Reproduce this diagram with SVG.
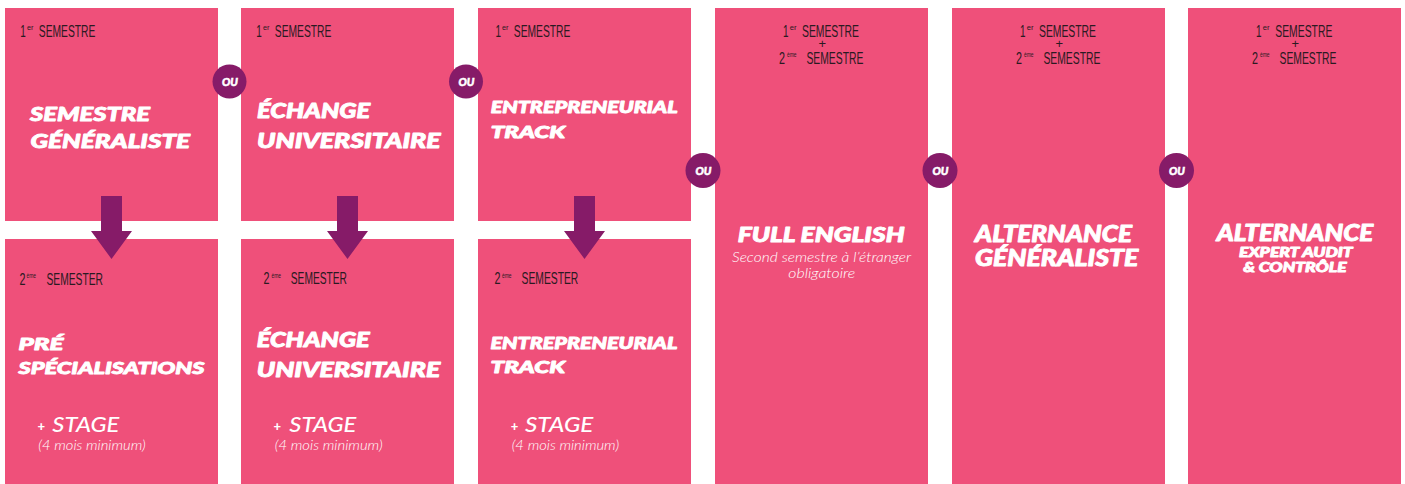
<svg xmlns="http://www.w3.org/2000/svg" width="1405" height="484" viewBox="0 0 1405 484">
<style>
.box{fill:#EF507A}
.hd{font-family:"Liberation Sans",Arial,sans-serif;font-size:16px;fill:#2B1A22}
.sup{font-family:"Liberation Sans",Arial,sans-serif;font-size:8px;fill:#2B1A22}
.plus{font-family:"Liberation Sans",Arial,sans-serif;font-size:13px;fill:#2B1A22;text-anchor:middle}
.t{font-family:Lato,Roboto,"Open Sans",sans-serif;font-weight:900;font-style:italic;fill:#FFFFFF;stroke:#FFFFFF;stroke-width:0.9px;stroke-linejoin:round}
.stg{font-family:Lato,"Open Sans",sans-serif;font-weight:500;font-style:italic;font-size:21px;fill:#FFFFFF}
.sp{font-family:Lato,"Open Sans",sans-serif;font-weight:900;font-size:13px;fill:#FFFFFF}
.note{font-family:Lato,"Open Sans",sans-serif;font-weight:300;font-style:italic;font-size:13px;fill:#FFFFFF}
.sub{font-family:Lato,"Open Sans",sans-serif;font-weight:300;font-style:italic;font-size:14.5px;fill:#FFFFFF}
.ou{fill:#861B68}
.out{font-family:Lato,Roboto,sans-serif;font-weight:900;font-style:italic;font-size:11px;fill:#FFFFFF;stroke:#FFFFFF;stroke-width:0.5px;text-anchor:middle}
.arr{fill:#861B68}
</style>

<g id="col1-s1">
<rect class="box" x="5" y="8" width="213" height="213"/>
<text class="hd" x="20.3" y="36.7" textLength="5.5" lengthAdjust="spacingAndGlyphs">1</text>
<text class="sup" x="27" y="30" textLength="6.5" lengthAdjust="spacingAndGlyphs">er</text>
<text class="hd" x="38.8" y="36.7" textLength="56.5" lengthAdjust="spacingAndGlyphs">SEMESTRE</text>
<text class="t" x="30" y="120.7" font-size="19.5" textLength="120" lengthAdjust="spacingAndGlyphs">SEMESTRE</text>
<text class="t" x="30.5" y="148.3" font-size="19.5" textLength="159.5" lengthAdjust="spacingAndGlyphs">GÉNÉRALISTE</text>
</g>

<g id="col2-s1">
<rect class="box" x="241" y="8" width="213" height="213"/>
<text class="hd" x="256.3" y="36.7" textLength="5.5" lengthAdjust="spacingAndGlyphs">1</text>
<text class="sup" x="263" y="30" textLength="6.5" lengthAdjust="spacingAndGlyphs">er</text>
<text class="hd" x="274.8" y="36.7" textLength="56.5" lengthAdjust="spacingAndGlyphs">SEMESTRE</text>
<text class="t" x="257" y="118" font-size="20" textLength="113" lengthAdjust="spacingAndGlyphs">ÉCHANGE</text>
<text class="t" x="257" y="148" font-size="20" textLength="183.5" lengthAdjust="spacingAndGlyphs">UNIVERSITAIRE</text>
</g>

<g id="col3-s1">
<rect class="box" x="478" y="8" width="213" height="213"/>
<text class="hd" x="495.6" y="36.7" textLength="5.5" lengthAdjust="spacingAndGlyphs">1</text>
<text class="sup" x="502" y="30" textLength="6.5" lengthAdjust="spacingAndGlyphs">er</text>
<text class="hd" x="513.8" y="36.7" textLength="56.5" lengthAdjust="spacingAndGlyphs">SEMESTRE</text>
<text class="t" x="490.7" y="113.3" font-size="16.3" textLength="187" lengthAdjust="spacingAndGlyphs">ENTREPRENEURIAL</text>
<text class="t" x="490.7" y="138.3" font-size="16.3" textLength="74.5" lengthAdjust="spacingAndGlyphs">TRACK</text>
</g>

<g id="col1-s2">
<rect class="box" x="5" y="239" width="213" height="245"/>
<text class="hd" x="19.6" y="285" textLength="6" lengthAdjust="spacingAndGlyphs">2</text>
<text class="sup" x="26.5" y="278.3" textLength="9.6" lengthAdjust="spacingAndGlyphs">ème</text>
<text class="hd" x="46.5" y="285" textLength="56.5" lengthAdjust="spacingAndGlyphs">SEMESTER</text>
<text class="t" x="18.5" y="350" font-size="17.2" textLength="45" lengthAdjust="spacingAndGlyphs">PRÉ</text>
<text class="t" x="18.5" y="374" font-size="17.2" textLength="186" lengthAdjust="spacingAndGlyphs">SPÉCIALISATIONS</text>
<text class="sp" x="37.5" y="431">+</text>
<text class="stg" x="52.3" y="431.7" textLength="67" lengthAdjust="spacingAndGlyphs">STAGE</text>
<text class="note" x="38.3" y="450" textLength="107.4" lengthAdjust="spacingAndGlyphs">(4 mois minimum)</text>
</g>

<g id="col2-s2">
<rect class="box" x="241" y="239" width="213" height="245"/>
<text class="hd" x="263.6" y="284.3" textLength="6" lengthAdjust="spacingAndGlyphs">2</text>
<text class="sup" x="271.5" y="277.6" textLength="9.6" lengthAdjust="spacingAndGlyphs">ème</text>
<text class="hd" x="290.8" y="284.3" textLength="56.2" lengthAdjust="spacingAndGlyphs">SEMESTER</text>
<text class="t" x="256.7" y="346.7" font-size="20" textLength="113" lengthAdjust="spacingAndGlyphs">ÉCHANGE</text>
<text class="t" x="256.7" y="376.7" font-size="20" textLength="183.5" lengthAdjust="spacingAndGlyphs">UNIVERSITAIRE</text>
<text class="sp" x="273.5" y="431">+</text>
<text class="stg" x="289.3" y="431.7" textLength="67" lengthAdjust="spacingAndGlyphs">STAGE</text>
<text class="note" x="274.7" y="450" textLength="108" lengthAdjust="spacingAndGlyphs">(4 mois minimum)</text>
</g>

<g id="col3-s2">
<rect class="box" x="478" y="239" width="213" height="245"/>
<text class="hd" x="494.6" y="284.3" textLength="6" lengthAdjust="spacingAndGlyphs">2</text>
<text class="sup" x="502" y="277.6" textLength="9.6" lengthAdjust="spacingAndGlyphs">ème</text>
<text class="hd" x="521.5" y="284.3" textLength="56.8" lengthAdjust="spacingAndGlyphs">SEMESTER</text>
<text class="t" x="490.5" y="349.3" font-size="16.3" textLength="187" lengthAdjust="spacingAndGlyphs">ENTREPRENEURIAL</text>
<text class="t" x="490.5" y="372.7" font-size="16.3" textLength="74.5" lengthAdjust="spacingAndGlyphs">TRACK</text>
<text class="sp" x="510.8" y="431">+</text>
<text class="stg" x="525" y="431.7" textLength="68.3" lengthAdjust="spacingAndGlyphs">STAGE</text>
<text class="note" x="511.7" y="450" textLength="107.4" lengthAdjust="spacingAndGlyphs">(4 mois minimum)</text>
</g>

<g id="col4">
<rect class="box" x="715" y="8" width="213" height="476"/>
<text class="hd" x="782.9" y="36.7" textLength="5.5" lengthAdjust="spacingAndGlyphs">1</text>
<text class="sup" x="789.7" y="30" textLength="6.8" lengthAdjust="spacingAndGlyphs">er</text>
<text class="hd" x="802" y="36.7" textLength="57" lengthAdjust="spacingAndGlyphs">SEMESTRE</text>
<text class="plus" x="822.3" y="48.4">+</text>
<text class="hd" x="778.9" y="64" textLength="6" lengthAdjust="spacingAndGlyphs">2</text>
<text class="sup" x="787" y="57.3" textLength="9.6" lengthAdjust="spacingAndGlyphs">ème</text>
<text class="hd" x="806.4" y="64" textLength="57" lengthAdjust="spacingAndGlyphs">SEMESTRE</text>
<text class="t" x="737.7" y="241.7" font-size="21" textLength="167" lengthAdjust="spacingAndGlyphs">FULL ENGLISH</text>
<text class="sub" x="732" y="261.5" textLength="179" lengthAdjust="spacingAndGlyphs">Second semestre à l’étranger</text>
<text class="sub" x="788.3" y="277.8" textLength="67" lengthAdjust="spacingAndGlyphs">obligatoire</text>
</g>

<g id="col5">
<rect class="box" x="952" y="8" width="213" height="476"/>
<text class="hd" x="1019.9" y="36.7" textLength="5.5" lengthAdjust="spacingAndGlyphs">1</text>
<text class="sup" x="1026.7" y="30" textLength="6.8" lengthAdjust="spacingAndGlyphs">er</text>
<text class="hd" x="1039" y="36.7" textLength="57" lengthAdjust="spacingAndGlyphs">SEMESTRE</text>
<text class="plus" x="1059.3" y="48.4">+</text>
<text class="hd" x="1015.9" y="64" textLength="6" lengthAdjust="spacingAndGlyphs">2</text>
<text class="sup" x="1024" y="57.3" textLength="9.6" lengthAdjust="spacingAndGlyphs">ème</text>
<text class="hd" x="1043.4" y="64" textLength="57" lengthAdjust="spacingAndGlyphs">SEMESTRE</text>
<text class="t" x="975" y="242.3" font-size="22" textLength="157" lengthAdjust="spacingAndGlyphs">ALTERNANCE</text>
<text class="t" x="975" y="265.7" font-size="22" textLength="163.3" lengthAdjust="spacingAndGlyphs">GÉNÉRALISTE</text>
</g>

<g id="col6">
<rect class="box" x="1188" y="8" width="213" height="476"/>
<text class="hd" x="1256" y="36.7" textLength="5.5" lengthAdjust="spacingAndGlyphs">1</text>
<text class="sup" x="1262.8" y="30" textLength="6.8" lengthAdjust="spacingAndGlyphs">er</text>
<text class="hd" x="1275.3" y="36.7" textLength="57" lengthAdjust="spacingAndGlyphs">SEMESTRE</text>
<text class="plus" x="1295.3" y="48.4">+</text>
<text class="hd" x="1252" y="64" textLength="6" lengthAdjust="spacingAndGlyphs">2</text>
<text class="sup" x="1260" y="57.3" textLength="9.6" lengthAdjust="spacingAndGlyphs">ème</text>
<text class="hd" x="1279.5" y="64" textLength="57" lengthAdjust="spacingAndGlyphs">SEMESTRE</text>
<text class="t" x="1216.7" y="240.7" font-size="22" textLength="156.6" lengthAdjust="spacingAndGlyphs">ALTERNANCE</text>
<text class="t" x="1239" y="256.7" font-size="14" textLength="113.7" lengthAdjust="spacingAndGlyphs">EXPERT AUDIT</text>
<text class="t" x="1243.3" y="271.7" font-size="14" textLength="103.4" lengthAdjust="spacingAndGlyphs">&amp; CONTRÔLE</text>
</g>

<g id="connectors">
<polygon class="arr" points="101,196 122,196 122,231 132,231 111.5,259 91,231 101,231"/>
<polygon class="arr" points="337,196 358,196 358,231 368,231 347.5,259 327,231 337,231"/>
<polygon class="arr" points="574,196 595,196 595,231 605,231 584.5,259 564,231 574,231"/>
</g>

<g id="ou1"><circle class="ou" cx="229.5" cy="81.5" r="17"/><text class="out" x="230" y="85.5">OU</text></g>
<g id="ou2"><circle class="ou" cx="466" cy="81.5" r="17"/><text class="out" x="466.5" y="85.5">OU</text></g>
<g id="ou3"><circle class="ou" cx="703" cy="170.5" r="17.5"/><text class="out" x="703.5" y="174.5">OU</text></g>
<g id="ou4"><circle class="ou" cx="940" cy="170.5" r="17.5"/><text class="out" x="940.5" y="174.5">OU</text></g>
<g id="ou5"><circle class="ou" cx="1176.5" cy="170.5" r="17.5"/><text class="out" x="1177" y="174.5">OU</text></g>
</svg>
